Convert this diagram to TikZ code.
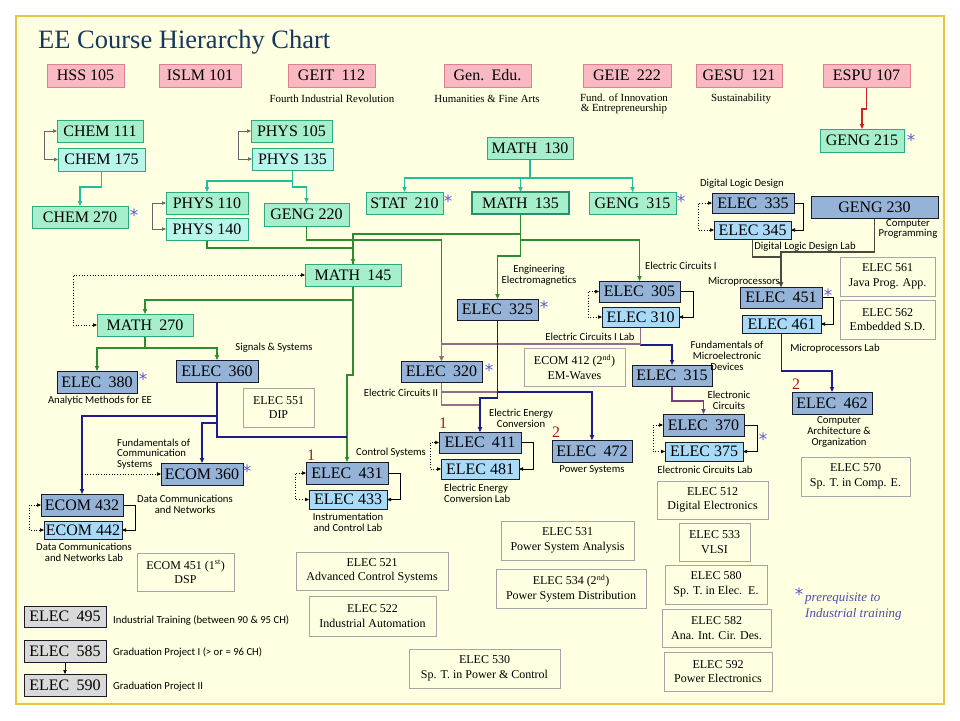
\documentclass[tikz,border=0pt]{standalone}
\usepackage{fontspec}
\setmainfont{Liberation Serif}
\newfontfamily\lblfont{Carlito}
\newfontfamily\symfont{DejaVu Sans}
\usetikzlibrary{arrows.meta}
\pgfdeclarelayer{back}
\pgfdeclarelayer{wires}
\pgfsetlayers{back,wires,main}
\definecolor{panel}{HTML}{FFFFE1}
\definecolor{panelbd}{HTML}{E8C547}
\definecolor{pinkf}{HTML}{F8B9C2}
\definecolor{pinkd}{HTML}{E07F8E}
\definecolor{mintf}{HTML}{A6EFCB}
\definecolor{mintl}{HTML}{B8F6EC}
\definecolor{mintd}{HTML}{2AAA82}
\definecolor{bluef}{HTML}{95B3D7}
\definecolor{bluel}{HTML}{A9DBF8}
\definecolor{blued}{HTML}{1A1A2A}
\definecolor{grayf}{HTML}{D9D9D9}
\definecolor{grayd}{HTML}{A6A6A6}
\definecolor{titlec}{HTML}{17375E}
\definecolor{cteal}{HTML}{22BE9C}
\definecolor{cgreen}{HTML}{2E8B2E}
\definecolor{cnavy}{HTML}{1C1C8C}
\definecolor{cpurple}{HTML}{7A3A8A}
\definecolor{cmauve}{HTML}{9A6A8E}
\definecolor{colive}{HTML}{4A4A3E}
\definecolor{cred}{HTML}{D02020}
\definecolor{starc}{HTML}{5A5AD8}
\definecolor{numred}{HTML}{A01E1E}
\definecolor{legendc}{HTML}{4B4BB4}
\newcommand\gp{\hspace{0.45em}}
\newcommand\bx[7]{\node[#6, minimum width={#4-#2}, minimum height={#5-#3}] (#1) at ({(#2+#4)/2},{(#3+#5)/2}) {#7};}
\begin{document}
\begin{tikzpicture}[x=1pt,y=-1pt,
  >={Triangle[length=5pt,width=4.2pt]},
  base/.style={draw, inner sep=0pt, outer sep=0pt, line width=0.8pt, font=\fontsize{16}{18}\selectfont},
  pinkbox/.style={base, fill=pinkf, draw=pinkd},
  mint/.style={base, fill=mintf, draw=mintd},
  mintlab/.style={base, fill=mintl, draw=mintd},
  mainmint/.style={base, fill=mintf, draw=mintd!85!black, line width=2pt},
  blue/.style={base, fill=bluef, draw=blued},
  bluelab/.style={base, fill=bluel, draw=blued},
  grybox/.style={base, fill=grayf, draw=blued},
  note/.style={draw=grayd, line width=0.8pt, inner sep=0pt, outer sep=0pt, align=center, font=\fontsize{12}{14.5}\selectfont},
  lbl/.style={inner sep=0pt, align=center, font=\lblfont\fontsize{10.7}{10.8}\selectfont},
  sub/.style={inner sep=0pt, align=center, font=\fontsize{10.9}{10.5}\selectfont},
  starst/.style={inner sep=0pt, anchor=base, text=starc, font=\symfont\fontsize{17}{17}\selectfont},
  num/.style={inner sep=0pt, text=numred, font=\fontsize{16}{16}\selectfont},
  w/.style={line width=1.1pt},
  wteal/.style={w, draw=cteal},
  wgreen/.style={w, draw=cgreen},
  wnavy/.style={w, draw=cnavy},
  wmauve/.style={w, draw=cmauve},
  wpurple/.style={w, draw=cpurple},
  wolive/.style={line width=1.8pt, draw=colive},
  wred/.style={w, draw=cred},
  brk/.style={line width=0.7pt, draw=black, >={Triangle[length=4pt,width=3.4pt]}},
  gbrk/.style={line width=0.7pt, draw=black!60, >={Triangle[length=4pt,width=3.4pt]}},
  dbrk/.style={line width=0.7pt, draw=black, dotted, >={Triangle[length=4pt,width=3.4pt]}}
]
\begin{pgfonlayer}{back}
\fill[white] (0,0) rectangle (960,720);
\draw[panelbd, fill=panel, line width=1.2pt] (16,16) rectangle (944,704);
\end{pgfonlayer}
\useasboundingbox (0,0) rectangle (960,720);

\node[anchor=base west, inner sep=0pt, text=titlec, font=\fontsize{26.5}{30}\selectfont] (title) at (38,48) {EE Course Hierarchy Chart};

% general education row
\bx{HSS}{47}{64}{124}{87}{pinkbox}{HSS 105}
\bx{ISLM}{159}{64}{241}{87}{pinkbox}{ISLM 101}
\bx{GEIT}{288}{64}{375}{87}{pinkbox}{GEIT\gp 112}
\bx{GEN}{444}{64}{531}{87}{pinkbox}{Gen.\gp Edu.}
\bx{GEIE}{583}{64}{671}{87}{pinkbox}{GEIE\gp 222}
\bx{GESU}{696}{64}{782}{87}{pinkbox}{GESU\gp 121}
\bx{ESPU}{823}{64}{910}{87}{pinkbox}{ESPU 107}
\node[sub] (s1) at (332,99) {Fourth Industrial Revolution};
\node[sub] (s2) at (487,99) {Humanities \& Fine Arts};
\node[sub] (s3) at (624,104) {Fund. of Innovation\\\& Entrepreneurship};
\node[sub] (s4) at (741,99) {Sustainability};

% science / math
\bx{CHEM111}{57}{120}{143}{142}{mint}{CHEM 111}
\bx{CHEM175}{58}{148}{145}{171}{mintlab}{CHEM 175}
\bx{CHEM270}{32}{206}{128}{228}{mint}{CHEM 270}
\bx{PHYS105}{251}{120}{332}{142}{mint}{PHYS 105}
\bx{PHYS135}{252}{148}{333}{170}{mintlab}{PHYS 135}
\bx{PHYS110}{166}{192}{248}{214}{mint}{PHYS 110}
\bx{PHYS140}{166}{218}{248}{240}{mintlab}{PHYS 140}
\bx{GENG220}{264}{203}{349}{226}{mint}{GENG 220}
\bx{MATH130}{487}{137}{573}{159}{mint}{MATH\gp 130}
\bx{STAT210}{366}{192}{443}{214}{mint}{STAT\gp 210}
\bx{MATH135}{472}{192}{569}{214}{mainmint}{MATH\gp 135}
\bx{GENG315}{589}{192}{676}{214}{mint}{GENG\gp 315}
\bx{MATH145}{305}{264}{401}{286}{mint}{MATH\gp 145}
\bx{MATH270}{97}{314}{193}{336}{mint}{MATH\gp 270}
\bx{GENG215}{820}{129}{904}{152}{mint}{GENG 215}

% EE courses
\bx{ELEC380}{57}{371}{137}{393}{blue}{ELEC\gp 380}
\bx{ELEC360}{176}{360}{258}{382}{blue}{ELEC\gp 360}
\bx{ECOM360}{161}{463}{243}{485}{blue}{ECOM 360}
\bx{ECOM432}{41}{494}{123}{516}{blue}{ECOM 432}
\bx{ECOM442}{44}{521}{122}{539}{bluelab}{ECOM 442}
\bx{ELEC431}{306}{462}{388}{484}{blue}{ELEC\gp 431}
\bx{ELEC433}{309}{490}{387}{509}{bluelab}{ELEC 433}
\bx{ELEC411}{439}{432}{521}{453}{blue}{ELEC\gp 411}
\bx{ELEC481}{441}{459}{519}{479}{bluelab}{ELEC 481}
\bx{ELEC472}{552}{440}{632}{462}{blue}{ELEC\gp 472}
\bx{ELEC325}{457}{299}{538}{320}{blue}{ELEC\gp 325}
\bx{ELEC320}{401}{361}{482}{382}{blue}{ELEC\gp 320}
\bx{ELEC305}{599}{281}{680}{302}{blue}{ELEC\gp 305}
\bx{ELEC310}{602}{307}{679}{327}{bluelab}{ELEC 310}
\bx{ELEC315}{632}{365}{712}{386}{blue}{ELEC\gp 315}
\bx{ELEC370}{663}{414}{744}{436}{blue}{ELEC\gp 370}
\bx{ELEC375}{665}{442}{743}{461}{bluelab}{ELEC 375}
\bx{ELEC335}{712}{193}{794}{213}{blue}{ELEC\gp 335}
\bx{ELEC345}{714}{221}{791}{239}{bluelab}{ELEC 345}
\bx{GENG230}{811}{196}{938}{218}{blue}{GENG 230}
\bx{ELEC451}{740}{287}{822}{308}{blue}{ELEC\gp 451}
\bx{ELEC461}{742}{315}{821}{333}{bluelab}{ELEC 461}
\bx{ELEC462}{792}{392}{872}{414}{blue}{ELEC\gp 462}

\bx{ELEC495}{24}{606}{106}{627}{grybox}{ELEC\gp 495}
\bx{ELEC585}{24}{640}{106}{662}{grybox}{ELEC\gp 585}
\bx{ELEC590}{24}{674}{106}{696}{grybox}{ELEC\gp 590}

% electives
\bx{ELEC551}{243}{388}{314}{427}{note}{ELEC 551\\DIP}
\bx{ECOM412}{524}{348}{625}{386}{note}{ECOM 412 (2\textsuperscript{nd})\\EM-Waves}
\bx{ELEC561}{840}{257}{935}{296}{note}{ELEC 561\\Java Prog. App.}
\bx{ELEC562}{840}{300}{935}{339}{note}{ELEC 562\\Embedded S.D.}
\bx{ELEC570}{801}{457}{910}{496}{note}{ELEC 570\\Sp. T. in Comp. E.}
\bx{ELEC512}{657}{481}{768}{519}{note}{ELEC 512\\Digital Electronics}
\bx{ELEC533}{679}{523}{750}{561}{note}{ELEC 533\\VLSI}
\bx{ELEC580}{665}{565}{767}{604}{note}{ELEC 580\\Sp. T. in Elec.\ \ E.}
\bx{ELEC582}{662}{609}{771}{647}{note}{ELEC 582\\Ana. Int. Cir. Des.}
\bx{ELEC592}{664}{652}{772}{691}{note}{ELEC 592\\Power Electronics}
\bx{ELEC531}{501}{521}{634}{560}{note}{ELEC 531\\Power System Analysis}
\bx{ELEC534}{496}{569}{646}{608}{note}{ELEC 534 (2\textsuperscript{nd})\\Power System Distribution}
\bx{ELEC530}{409}{649}{560}{688}{note}{ELEC 530\\Sp. T. in Power \& Control}
\bx{ELEC521}{296}{552}{448}{590}{note}{ELEC 521\\Advanced Control Systems}
\bx{ELEC522}{309}{596}{436}{636}{note}{ELEC 522\\Industrial Automation}
\bx{ECOM451}{137}{553}{234}{591}{note}{ECOM 451 (1\textsuperscript{st})\\DSP}

% labels
\node[lbl] (L1) at (274,348) {Signals \& Systems};
\node[lbl] (L2) at (100,401) {Analytic Methods for EE};
\node[lbl, align=left, anchor=west] (L3) at (117,454) {Fundamentals of\\Communication\\Systems};
\node[lbl] (L4) at (185,504) {Data Communications\\and Networks};
\node[lbl] (L5) at (84,552) {Data Communications\\and Networks Lab};
\node[lbl] (L6) at (348,522) {Instrumentation\\and Control Lab};
\node[lbl] (L7) at (391,453) {Control Systems};
\node[lbl] (L8) at (521,418) {Electric Energy\\Conversion};
\node[lbl, align=left, anchor=west] (L9) at (444,493) {Electric Energy\\Conversion Lab};
\node[lbl] (L10) at (592,470) {Power Systems};
\node[lbl] (L11) at (729,400) {Electronic\\Circuits};
\node[lbl] (L12) at (705,470) {Electronic Circuits Lab};
\node[lbl] (L13) at (401,393) {Electric Circuits II};
\node[lbl] (L14) at (590,337) {Electric Circuits I Lab};
\node[lbl] (L15) at (539,275) {Engineering\\Electromagnetics};
\node[lbl, anchor=west] (L16) at (645,266) {Electric Circuits I};
\node[lbl] (L17) at (727,356) {Fundamentals of\\Microelectronic\\Devices};
\node[lbl] (L18) at (742,184) {Digital Logic Design};
\node[lbl] (L19) at (805,247) {Digital Logic Design Lab};
\node[lbl] (L20) at (908,229) {Computer\\Programming};
\node[lbl, anchor=east] (L21) at (780,282) {Microprocessors};
\node[lbl] (L22) at (835,349) {Microprocessors Lab};
\node[lbl] (L23) at (839,432) {Computer\\Architecture \&\\Organization};
\node[lbl, anchor=west] (L24) at (113,620) {Industrial Training (between 90 \& 95 CH)};
\node[lbl, anchor=west] (L25) at (113,652) {Graduation Project I (> or = 96 CH)};
\node[lbl, anchor=west] (L26) at (113,687) {Graduation Project II};

% numbers
\node[num] (N1) at (311,455) {1};
\node[num] (N2) at (443,423) {1};
\node[num] (N3) at (556,432) {2};
\node[num] (N4) at (796,384) {2};

% asterisks
\node[starst] (A1) at (134,221) {*};
\node[starst] (A2) at (448,207) {*};
\node[starst] (A3) at (681,207) {*};
\node[starst] (A4) at (911,146) {*};
\node[starst] (A5) at (544,313) {*};
\node[starst] (A6) at (489,376) {*};
\node[starst] (A7) at (143,385) {*};
\node[starst] (A8) at (247,477) {*};
\node[starst] (A9) at (763,445) {*};
\node[starst] (A10) at (828,301) {*};
\node[starst] (A11) at (799,600) {*};
\node[inner sep=0pt, anchor=north west, align=left, text=legendc, font=\itshape\fontsize{13}{16}\selectfont] (leg) at (805,593) {prerequisite to\\Industrial training};

\coordinate (j1) at (347,375);
\coordinate (j2) at (347,437);

\begin{pgfonlayer}{wires}
\draw[wred,->] (ESPU.south) -- ++(0,22) -| (GENG215.north);
% teal
\draw[wteal,->] (CHEM175.south) -- ++(0,16) -| (CHEM270.north);
\draw[wteal,->] (PHYS135.south) -- ++(0,11) -| (PHYS110.north);
\draw[wteal,->] (PHYS135.south) -- ++(0,17) -| (GENG220.north);
\draw[wteal,->] (MATH130.south) -- ++(0,19) -| (STAT210.north);
\draw[wteal,->] (MATH130.south) -- ++(0,19) -| (MATH135.north);
\draw[wteal,->] (MATH130.south) -- ++(0,19) -| (GENG315.north);
% green
\draw[wgreen,->] (MATH135.south) -- ++(0,20) -| (MATH145.north);
\draw[wgreen,->] (MATH135.south) -- ++(0,26) -| (ELEC305.north);
\draw[wgreen,->] (MATH135.south) -- ++(0,42) -| (ELEC325.north);
\draw[wgreen,->] (GENG220.south) -- ++(0,14) -| (ELEC320.north);
\draw[wgreen] (PHYS140.south) -- ++(0,8) -| (MATH145.north);
\draw[wgreen,->] (MATH145.south) |- (j1) -- (ELEC431.north);
\draw[wgreen,->] (MATH145.south) -- ++(0,14) -| (MATH270.north);
\draw[wgreen,->] (MATH270.south) -- ++(0,12) -| (ELEC380.north);
\draw[wgreen,->] (MATH270.south) -- ++(0,12) -| (ELEC360.north);
% navy etc.
\draw[wnavy,->] (ELEC360.south) -- ++(0,34) -| (ECOM432.north);
\draw[wnavy,->] (ELEC360.south) -- ++(0,41) -| (ECOM360.north);
\draw[wnavy] (ELEC360.south) |- (j2);
\draw[wnavy,->] (ELEC310.south) -- ++(0,18) -| (ELEC315.north);
\draw[wmauve,->] (ELEC310.south) -- ++(0,17) -| (ELEC320.north);
\draw[wmauve,->] (ELEC320.south) -- ++(0,23) -| (ELEC411.north);
\draw[wmauve,->] (ELEC320.south) -- ++(0,10) -| (ELEC472.north);
\draw[wnavy,->] (ELEC325.south) -- ++(0,78) -| (ELEC411.north);
\draw[wnavy,->] (ELEC325.south) -- ++(0,72) -| (ELEC472.north);
\draw[wpurple,->] (ELEC315.south) -- ++(0,15) -| (ELEC370.north);
\draw[wolive,->] (ELEC345.south) -- ++(0,18) -| (ELEC451.north);
\draw[wolive,->] (GENG230.south) -- ++(0,34) -| (ELEC451.north);
\draw[wnavy,->] (ELEC461.south) -- ++(0,38) -| (ELEC462.north);
\draw[brk,->] (ELEC585.south) -- (ELEC590.north);
% brackets
\draw[gbrk,<->] (CHEM111.west) -- ++(-13,0) |- (CHEM175.west);
\draw[gbrk,<->] (PHYS105.west) -- ++(-13,0) |- (PHYS135.west);
\draw[gbrk,<->] (PHYS110.west) -- ++(-14,0) |- (PHYS140.west);
\draw[dbrk,<->] (MATH145.west) -- ++(-232,0) |- (MATH270.west);
\draw[dbrk,->] (ECOM432.north |- ECOM360.west) -- (ECOM360.west);
\draw[brk,->] (ECOM432.east) -- ++(12,0) |- (ECOM442.east);
\draw[dbrk,<->] (ECOM432.west) -- ++(-12,0) |- (ECOM442.west);
\draw[brk,->] (ELEC431.east) -- ++(12,0) |- (ELEC433.east);
\draw[dbrk,<->] (ELEC431.west) -- ++(-11,0) |- (ELEC433.west);
\draw[brk,->] (ELEC411.east) -- ++(12,0) |- (ELEC481.east);
\draw[dbrk,<->] (ELEC411.west) -- ++(-9,0) |- (ELEC481.west);
\draw[brk,->] (ELEC305.east) -- ++(13,0) |- (ELEC310.east);
\draw[dbrk,<->] (ELEC305.west) -- ++(-11,0) |- (ELEC310.west);
\draw[brk,->] (ELEC370.east) -- ++(13,0) |- (ELEC375.east);
\draw[dbrk,<->] (ELEC370.west) -- ++(-10,0) |- (ELEC375.west);
\draw[brk,->] (ELEC335.east) -- ++(9,0) |- (ELEC345.east);
\draw[dbrk,<->] (ELEC335.west) -- ++(-14,0) |- (ELEC345.west);
\draw[brk,->] (ELEC451.east) -- ++(11,0) |- (ELEC461.east);
\end{pgfonlayer}
\end{tikzpicture}
\end{document}
